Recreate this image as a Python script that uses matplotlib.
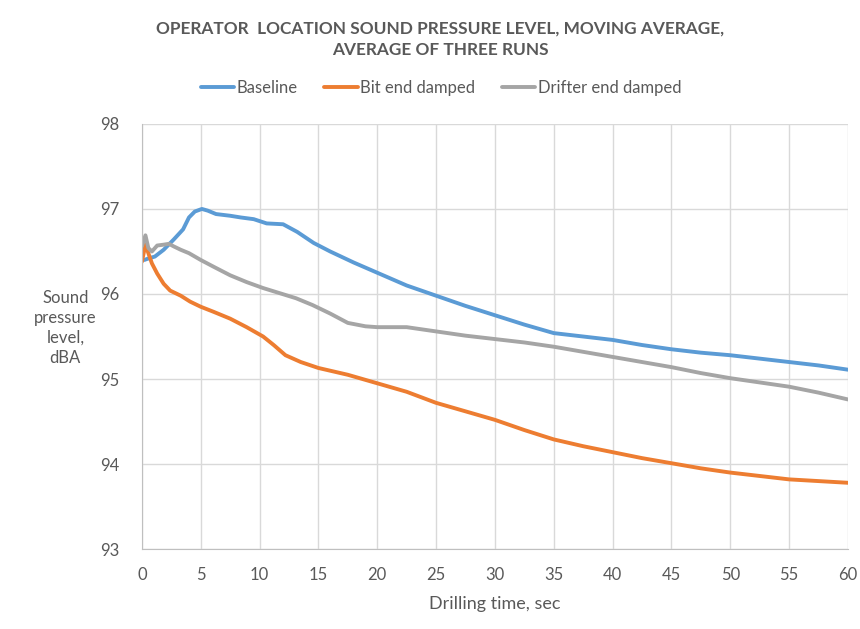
import matplotlib.pyplot as plt

# Drilling time (sec) and sound pressure level (dBA)
baseline_t = [0.2, 0.6, 1.1, 1.85, 2.7, 3.5, 4.0, 4.5, 5.1, 5.6, 6.3, 7.5, 8.4, 9.5,
              10.6, 12.0, 13.2, 14.6, 16, 18, 20, 22.5, 25, 27.5, 30, 32.5, 35,
              37.5, 40, 42.5, 45, 47.5, 50, 52.5, 55, 57.5, 60]
baseline_db = [96.4, 96.42, 96.44, 96.52, 96.64, 96.76, 96.9, 96.97, 97.0, 96.98,
               96.94, 96.92, 96.9, 96.88, 96.83, 96.82, 96.73, 96.6, 96.5, 96.37,
               96.25, 96.1, 95.98, 95.86, 95.75, 95.64, 95.54, 95.5, 95.46, 95.4,
               95.35, 95.31, 95.28, 95.24, 95.2, 95.16, 95.11]

bit_t = [0, 0.3, 0.55, 0.85, 1.3, 1.85, 2.4, 3.3, 4.1, 5.0, 6.1, 7.5, 8.9, 10.3,
         11.2, 12.2, 13.5, 15, 17.5, 20, 22.5, 25, 27.5, 30, 32.5, 35, 37.5, 40,
         42.5, 45, 47.5, 50, 52.5, 55, 57.5, 60]
bit_db = [96.38, 96.58, 96.48, 96.36, 96.24, 96.12, 96.04, 95.98, 95.91, 95.85,
          95.79, 95.71, 95.61, 95.5, 95.4, 95.28, 95.2, 95.13, 95.05, 94.95, 94.85,
          94.72, 94.62, 94.52, 94.4, 94.29, 94.21, 94.14, 94.07, 94.01, 93.95,
          93.9, 93.86, 93.82, 93.8, 93.78]

drifter_t = [0, 0.3, 0.55, 0.85, 1.3, 1.85, 2.3, 2.7, 3.3, 4.0, 5.0, 6.1, 7.5, 8.9,
             10.3, 11.7, 13.1, 14.5, 16, 17.5, 19, 20, 22.5, 25, 27.5, 30, 32.5,
             35, 37.5, 40, 42.5, 45, 47.5, 50, 52.5, 55, 57.5, 60]
drifter_db = [96.56, 96.69, 96.54, 96.5, 96.57, 96.58, 96.59, 96.56, 96.52, 96.48,
              96.4, 96.32, 96.22, 96.14, 96.07, 96.01, 95.95, 95.87, 95.77, 95.66,
              95.62, 95.61, 95.61, 95.56, 95.51, 95.47, 95.43, 95.38, 95.32, 95.26,
              95.2, 95.14, 95.07, 95.01, 94.96, 94.91, 94.84, 94.76]

x_ticks = list(range(0, 61, 5))
y_ticks = [93, 94, 95, 96, 97, 98]

plt.rcParams['font.family'] = ['Lato', 'DejaVu Sans']
text_color = "#595959"

fig = plt.figure(figsize=(8.6, 6.29), dpi=100)
ax = fig.add_axes([0.165, 0.127, 0.821, 0.676])

ax.plot(baseline_t, baseline_db, color="#5B9BD5", lw=2.8, label="Baseline",
        solid_capstyle="round")
ax.plot(bit_t, bit_db, color="#ED7D31", lw=2.8, label="Bit end damped",
        solid_capstyle="round")
ax.plot(drifter_t, drifter_db, color="#A5A5A5", lw=2.8, label="Drifter end damped",
        solid_capstyle="round")

ax.set_xlim(0, 60)
ax.set_ylim(93, 98)
ax.set_xticks(x_ticks)
ax.set_yticks(y_ticks)
ax.grid(True, color="#D9D9D9", lw=1)
ax.set_axisbelow(True)
for side in ["top", "right"]:
    ax.spines[side].set_visible(False)
for side in ["left", "bottom"]:
    ax.spines[side].set_color("#BFBFBF")
ax.tick_params(length=0, labelsize=12, colors=text_color)
ax.tick_params(axis="x", pad=13)
ax.tick_params(axis="y", pad=16)

ax.set_xlabel("Drilling time, sec", fontsize=13, color=text_color, labelpad=9)
fig.text(0.076, 0.479, "Sound\npressure\nlevel,\ndBA", ha="center", va="center",
         fontsize=12, color=text_color, linespacing=1.3)

fig.text(0.512, 0.938, "OPERATOR  LOCATION SOUND PRESSURE LEVEL, MOVING AVERAGE,\nAVERAGE OF THREE RUNS",
         ha="center", va="center", fontsize=12.4, fontweight="bold", color=text_color,
         linespacing=1.45)

ax.legend(loc="center", bbox_to_anchor=(441 / 860, 1 - 88 / 629),
          bbox_transform=fig.transFigure, ncol=3, frameon=False,
          fontsize=12, labelcolor=text_color, handlelength=2.0, handletextpad=0.15,
          columnspacing=1.6)

fig.savefig("out.png", dpi=100)
